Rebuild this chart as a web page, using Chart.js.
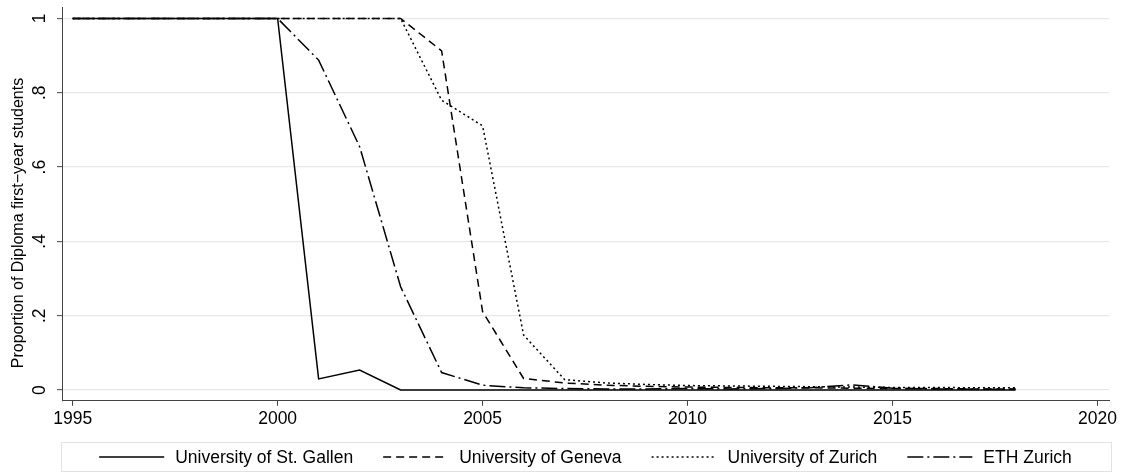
<!DOCTYPE html>
<html><head><meta charset="utf-8">
<script src="https://cdn.jsdelivr.net/npm/chart.js@4/dist/chart.umd.min.js"></script>
<style>html,body{margin:0;padding:0;background:#fff;overflow:hidden}#wrap{width:1124px;height:473px;position:relative}</style>
</head><body><div id="wrap"><canvas id="c" width="1124" height="473"></canvas></div>
<script>
const years = [1995,1996,1997,1998,1999,2000,2001,2002,2003,2004,2005,2006,2007,2008,2009,2010,2011,2012,2013,2014,2015,2016,2017,2018];
const seriesNames = ["University of St. Gallen","University of Geneva","University of Zurich","ETH Zurich"];
const stGallen = [1,1,1,1,1,1,0.030,0.054,0,0,0,0,0,0,0,0,0,0,0,0,0,0,0,0];
const geneva   = [1,1,1,1,1,1,1,1,1,0.913,0.211,0.031,0.019,0.013,0.010,0.008,0.007,0.006,0.006,0.005,0.004,0.004,0.003,0.003];
const zurich   = [1,1,1,1,1,1,1,1,1,0.780,0.711,0.148,0.028,0.019,0.015,0.012,0.011,0.010,0.009,0.008,0.007,0.007,0.006,0.006];
const eth      = [1,1,1,1,1,1,0.888,0.655,0.278,0.047,0.013,0.006,0.004,0.003,0.003,0.004,0.003,0.004,0.006,0.014,0.005,0.003,0.002,0.002];
const xTicks = [1995,2000,2005,2010,2015,2020];
const yTicks = [0,0.2,0.4,0.6,0.8,1];
const yTickLabels = ["0",".2",".4",".6",".8","1"];
const yTitle = "Proportion of Diploma first\u2212year students";

const FONT = '"Liberation Sans", Arial, Helvetica, sans-serif';
Chart.defaults.font.family = FONT;
Chart.defaults.color = '#000';

const toPts = arr => years.map((yr,i)=>({x:yr,y:arr[i]}));
const styles = [[],[8,5],[2,3],[16,4,2,4]];
const seriesData = [stGallen, geneva, zurich, eth];

const extras = {
  id:'extras',
  afterDraw(chart){
    const ctx = chart.ctx, ys = chart.scales.y, ca = chart.chartArea;
    ctx.save();
    ctx.fillStyle = '#000';
    ctx.font = '17.5px ' + FONT;
    yTicks.forEach((v,i)=>{
      const py = ys.getPixelForValue(v);
      ctx.save(); ctx.translate(40, py); ctx.rotate(-Math.PI/2);
      ctx.textAlign='center'; ctx.textBaseline='middle';
      ctx.fillText(yTickLabels[i],0,0); ctx.restore();
    });
    ctx.save(); ctx.font = '16px ' + FONT;
    ctx.translate(19, 223); ctx.rotate(-Math.PI/2);
    ctx.textAlign='center'; ctx.textBaseline='middle';
    ctx.fillText(yTitle,0,0); ctx.restore();
    const sample = 65, gapText = 11, gapItem = 30, yMid = 457;
    const items = chart.data.datasets.map(ds=>({ds, w: ctx.measureText(ds.label).width}));
    const total = items.reduce((a,it)=>a+sample+gapText+it.w,0) + gapItem*(items.length-1);
    let x = (ca.left+ca.right)/2 - total/2;
    ctx.strokeStyle = '#e2e2e2'; ctx.lineWidth = 1;
    ctx.strokeRect(Math.round(x-38.5)+0.5, 442.5, Math.round(total+77), 29);
    items.forEach(it=>{
      ctx.beginPath(); ctx.setLineDash(it.ds.borderDash||[]);
      ctx.lineWidth = it.ds.borderWidth; ctx.strokeStyle = '#000';
      ctx.moveTo(x, yMid); ctx.lineTo(x+sample, yMid); ctx.stroke();
      ctx.setLineDash([]);
      ctx.textAlign='left'; ctx.textBaseline='middle';
      ctx.fillText(it.ds.label, x+sample+gapText, yMid+1);
      x += sample+gapText+it.w+gapItem;
    });
    ctx.restore();
  }
};

new Chart(document.getElementById('c'), {
  type:'line',
  data:{ datasets: seriesNames.map((n,i)=>({
    label:n, data: toPts(seriesData[i]), borderColor:'#000', borderWidth:1.5,
    borderDash: styles[i], pointRadius:0, tension:0, fill:false,
    borderCapStyle:'butt', borderJoinStyle:'miter'
  }))},
  options:{
    responsive:false, animation:false, devicePixelRatio:1,
    layout:{padding:{top:7.7,right:15,bottom:32.2,left:0}},
    plugins:{legend:{display:false}, tooltip:{enabled:false}},
    scales:{
      x:{type:'linear', min:1994.74, max:2020.28,
        afterBuildTicks: s=>{ s.ticks = xTicks.map(v=>({value:v})); },
        afterFit: s=>{ s.height = 40; },
        ticks:{font:{size:17.5, family:FONT}, color:'#000', padding:3, maxRotation:0, autoSkip:false, callback:v=>String(v)},
        grid:{drawOnChartArea:false, drawTicks:true, tickLength:5, tickColor:'#444', tickWidth:1},
        border:{color:'#444', width:1}
      },
      y:{type:'linear', min:-0.029, max:1.029,
        afterBuildTicks: s=>{ s.ticks = yTicks.map(v=>({value:v})); },
        afterFit: s=>{ s.width = 62; },
        ticks:{display:false},
        grid:{color:'#e8e8e8', lineWidth:1.3, drawTicks:true, tickLength:5, tickColor:'#444', tickWidth:1},
        border:{color:'#444', width:1}
      }
    }
  },
  plugins:[extras]
});
</script></body></html>
